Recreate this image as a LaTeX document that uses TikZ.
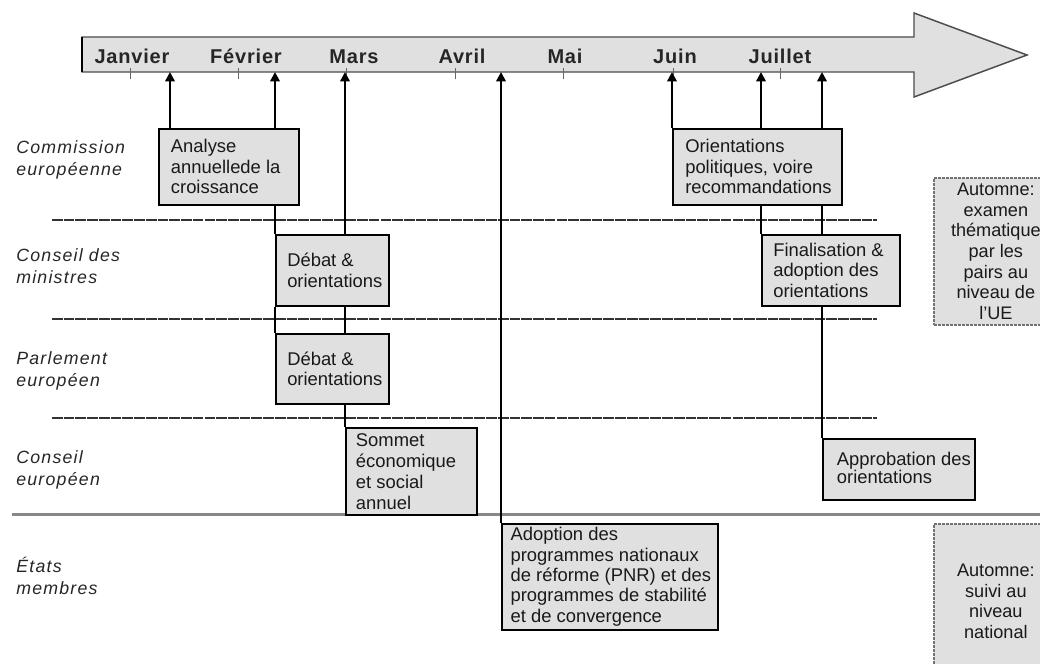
\documentclass[tikz,border=0pt]{standalone}
\usepackage{fontspec}
\setmainfont{Liberation Sans}
\newfontfamily\lanefont[LetterSpace=7]{Liberation Sans}
\newfontfamily\monthfont[LetterSpace=4]{Liberation Sans}
\usetikzlibrary{arrows.meta,backgrounds}
\definecolor{boxgray}{RGB}{224,224,224}
\definecolor{sepgray}{RGB}{135,135,135}
\tikzset{
  box/.style={draw=black, line width=1.2pt, fill=boxgray, anchor=north west, inner sep=0pt},
  boxtxt/.style={anchor=west, align=left, inner sep=0pt, font=\fontsize{13.8}{15.3}\selectfont, text=black!90},
  autobox/.style={draw=black!55, dash pattern=on 2pt off 1pt, line width=1.3pt, fill=boxgray, anchor=north west, align=center, inner sep=0pt, font=\fontsize{13.6}{15.4}\selectfont, text=black!90},
  month/.style={anchor=base, inner sep=0pt, font=\monthfont\bfseries\fontsize{15}{18}\selectfont, text=black!85},
  lane/.style={anchor=west, align=left, inner sep=0pt, font=\lanefont\itshape\fontsize{13.3}{16.8}\selectfont, text=black!85},
  link/.style={draw=black, line width=2pt},
  up/.style={link, -{Triangle[length=7pt,width=7pt]}},
  sep/.style={draw=black!80, line width=1.6pt, dash pattern=on 8pt off 0.8pt},
  tickmark/.style={draw=black!60, line width=0.6pt},
  timeline/.style={fill=boxgray, draw=black!70, line width=1.1pt, line join=miter},
}
\begin{document}
\begin{tikzpicture}[x=0.75pt,y=-0.75pt]
\useasboundingbox (0,0) rectangle (1040,664);

% timeline arrow
\begin{scope}[on background layer]
\filldraw[timeline] (82,37) -- (914,37) -- (914,13) -- (1027,55) -- (914,97) -- (914,72) -- (82,72) -- cycle;
\draw[draw=black, line width=1.5pt] (82,37) -- (82,72);
\foreach \x in {130,238,346,455,563,673,780} {
  \draw[tickmark] (\x,68) -- (\x,79);
}
\draw[sep] (52,220) -- (877,220);
\draw[sep] (52,319) -- (877,319);
\draw[sep] (52,418) -- (877,418);
\draw[draw=sepgray, line width=2.2pt] (12,514.5) -- (1040,514.5);
\end{scope}

% months
\node[month] (jan) at (132,63) {Janvier};
\node[month] (feb) at (246,63) {Février};
\node[month] (mar) at (354,63) {Mars};
\node[month] (apr) at (462,63) {Avril};
\node[month] (may) at (565,63) {Mai};
\node[month] (jun) at (675,63) {Juin};
\node[month] (jul) at (780,63) {Juillet};

% arrival points on the timeline
\coordinate (a1) at (170,72);
\coordinate (a2) at (275,72);
\coordinate (a3) at (345,72);
\coordinate (a4) at (501,72);
\coordinate (a5) at (672,72);
\coordinate (a6) at (761,72);
\coordinate (a7) at (822,72);

% lane labels
\node[lane] (l1) at (16,160) {Commission\\européenne};
\node[lane] (l2) at (16,266) {Conseil des\\ministres};
\node[lane] (l3) at (16,371) {Parlement\\européen};
\node[lane] (l4) at (16,470) {Conseil\\européen};
\node[lane] (l5) at (16,576) {États\\membres};

% boxes
\node[box, minimum width=105pt, minimum height=57pt] (analyse) at (158,128) {};
\node[boxtxt] (analyse-t) at ([xshift=9.5pt]analyse.west) {Analyse\\annuellede la\\croissance};

\node[box, minimum width=84.75pt, minimum height=53.25pt] (debat1) at (275,234) {};
\node[boxtxt] (debat1-t) at ([xshift=9pt]debat1.west) {Débat \&\\orientations};

\node[box, minimum width=84.75pt, minimum height=52.5pt] (debat2) at (275,333) {};
\node[boxtxt] (debat2-t) at ([xshift=9pt]debat2.west) {Débat \&\\orientations};

\node[box, minimum width=98.25pt, minimum height=65.25pt] (sommet) at (345,427) {};
\node[boxtxt, font=\fontsize{13.8}{15.8}\selectfont] (sommet-t) at ([xshift=8pt]sommet.west) {Sommet\\économique\\et social\\annuel};

\node[box, minimum width=162pt, minimum height=79.5pt] (adoption) at (501,523) {};
\node[boxtxt] (adoption-t) at ([xshift=7pt]adoption.west) {Adoption des\\programmes nationaux\\de réforme (PNR) et des\\programmes de stabilité\\et de convergence};

\node[box, minimum width=126.75pt, minimum height=57pt] (orient) at (672,128) {};
\node[boxtxt] (orient-t) at ([xshift=9.75pt]orient.west) {Orientations\\politiques, voire\\recommandations};

\node[box, minimum width=103.5pt, minimum height=53.25pt] (final) at (761,234) {};
\node[boxtxt] (final-t) at ([xshift=9pt]final.west) {Finalisation \&\\adoption des\\orientations};

\node[box, minimum width=114pt, minimum height=45.75pt] (approb) at (822,438) {};
\node[boxtxt, font=\fontsize{13.8}{9}\selectfont] (approb-t) at ([xshift=11pt,yshift=1pt]approb.west) {Approbation des\\orientations};

\node[autobox, minimum width=93pt, minimum height=110.25pt] (aut1) at (933,177) {Automne:\\examen\\thématique\\par les\\pairs au\\niveau de\\l'UE};
\node[autobox, minimum width=93pt, minimum height=116.25pt] (aut2) at (933,523) {Automne:\\suivi au\\niveau\\national};

% connectors
\draw[up] (a1 |- analyse.north) -- (a1);
\draw[up] (a2 |- analyse.north) -- (a2);
\draw[link] (debat1.north west |- analyse.south) -- (debat1.north west);
\draw[link] (debat1.south west) -- (debat2.north west);
\draw[up] (a3 |- debat1.north) -- (a3);
\draw[link] (a3 |- debat1.south) -- (a3 |- debat2.north);
\draw[link] (a3 |- debat2.south) -- (sommet.north west);
\draw[up] (adoption.north west) -- (a4);
\draw[up] (orient.north west) -- (a5);
\draw[up] (a6 |- orient.north) -- (a6);
\draw[link] (a6 |- orient.south) -- (final.north west);
\draw[up] (a7 |- orient.north) -- (a7);
\draw[link] (a7 |- orient.south) -- (a7 |- final.north);
\draw[link] (a7 |- final.south) -- (approb.north west);
\end{tikzpicture}
\end{document}
